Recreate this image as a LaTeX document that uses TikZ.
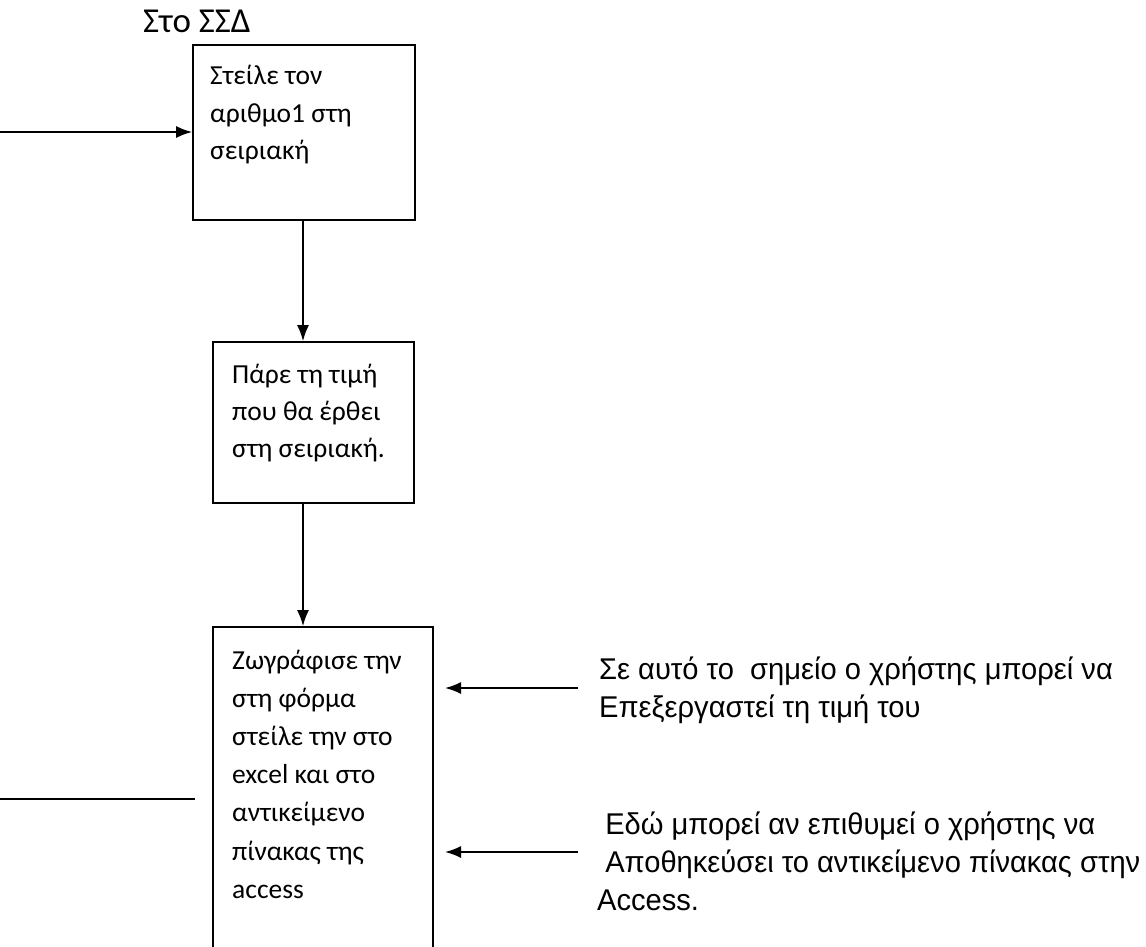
\documentclass[tikz,border=0pt]{standalone}
\usepackage{fontspec}
\setmainfont{Carlito}
\newfontfamily\notefont{Liberation Sans}[FakeStretch=0.97]
\usetikzlibrary{arrows.meta}
% stack of left-aligned rows whose reference point is the first baseline
\newcommand\textrows[2]{\vtop{\baselineskip=#1\lineskip=0pt\lineskiplimit=-100pt #2}}
\begin{document}
\begin{tikzpicture}[x=1pt,y=-1pt,
  box/.style={draw, line width=1.7pt, inner sep=0pt},
  boxtext/.style={anchor=base west, inner sep=0pt, font=\fontsize{27.5}{32}\selectfont},
  notetext/.style={anchor=base west, inner sep=0pt, font=\notefont\fontsize{30}{38}\selectfont},
  flow/.style={line width=1.7pt, -{Latex[length=16pt,width=12pt]}},
  plain/.style={line width=1.7pt}]
\clip (0,0) rectangle (1146,947);
\fill[white] (0,0) rectangle (1146,947);

% caption over the first step
\node[anchor=base west, inner sep=0pt, font=\fontsize{35}{40}\selectfont] (title) at (143,33) {Στο ΣΣΔ};

% process boxes
\node[box, minimum width=222pt, minimum height=175pt] (send) at (304,132.5) {};
\node[box, minimum width=201pt, minimum height=161pt] (read) at (313.5,422.5) {};
\node[box, minimum width=220pt, minimum height=400pt] (draw) at (323,827) {};

\node[boxtext] (sendtxt) at (210,85)
  {\textrows{37.5pt}{\hbox{Στείλε τον}\hbox{αριθμο1 στη}\hbox{σειριακή}}};
\node[boxtext] (readtxt) at (232,383)
  {\textrows{37pt}{\hbox{Πάρε τη τιμή}\hbox{που θα έρθει}\hbox{στη σειριακή.}}};
\node[boxtext] (drawtxt) at (232,669)
  {\textrows{38.2pt}{\hbox{Ζωγράφισε την}\hbox{στη φόρμα}\hbox{στείλε την στο}\hbox{excel και στο}\hbox{αντικείμενο}\hbox{πίνακας της}\hbox{access}}};

% notes on the right
\node[notetext] (note1) at (599,679)
  {\textrows{38pt}{\hbox{Σε αυτό το\ \ σημείο ο χρήστης μπορεί να}\hbox{Επεξεργαστεί τη τιμή του}}};
\node[notetext] (note2) at (597,834)
  {\textrows{38pt}{\hbox{\ Εδώ μπορεί αν επιθυμεί ο χρήστης να}\hbox{\ Αποθηκεύσει το αντικείμενο πίνακας στην}\hbox{Access.}}};

% free ends of the connectors
\coordinate (inA) at (0,132);
\coordinate (outA) at (0,799);
\coordinate (outB) at (195,799);
\coordinate (tail1) at (578,688);
\coordinate (tip1) at (445,688);
\coordinate (tail2) at (578,852);
\coordinate (tip2) at (445,852);

% connectors
\draw[flow] (inA) -- (inA -| send.west);
\draw[flow] (send.south -| 303,0) -- (read.north -| 303,0);
\draw[flow] (read.south -| 303,0) -- (draw.north -| 303,0);
\draw[plain] (outA) -- (outB);
\draw[flow] (tail1) -- (tip1);
\draw[flow] (tail2) -- (tip2);
\end{tikzpicture}
\end{document}
